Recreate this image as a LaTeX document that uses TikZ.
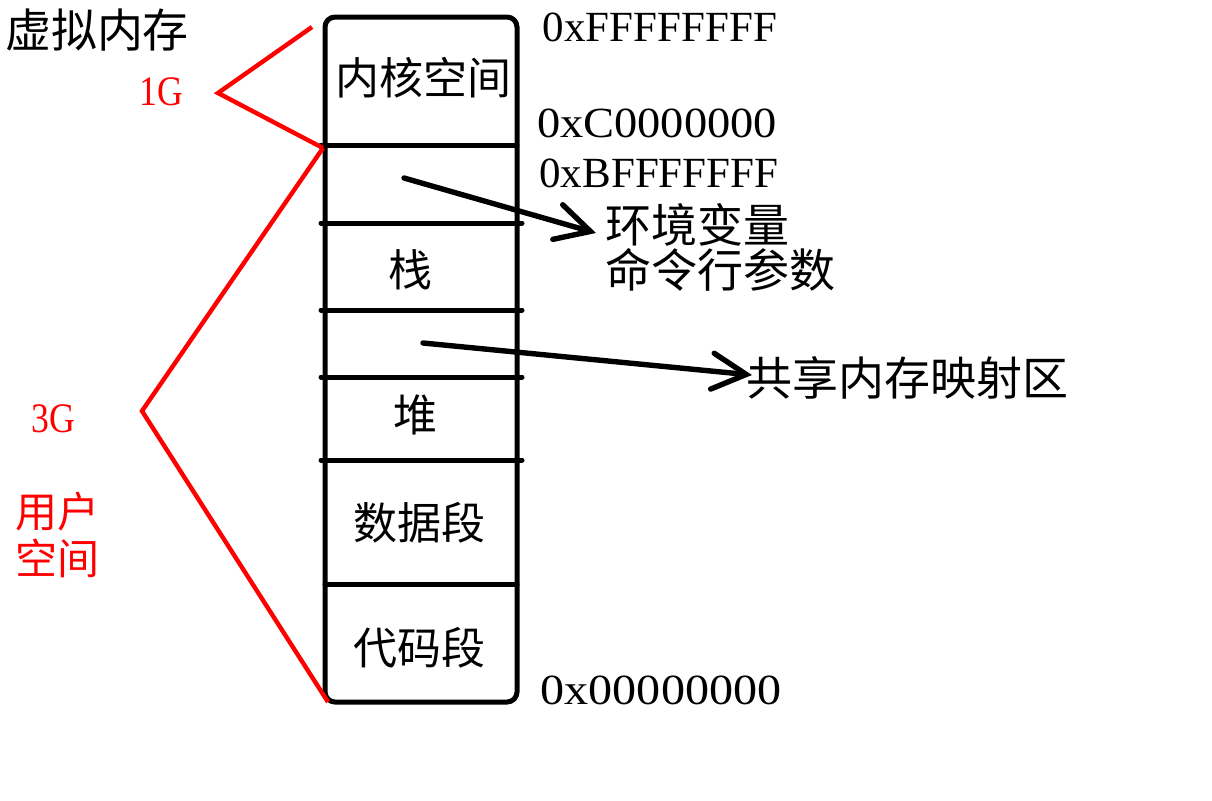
\documentclass[tikz,border=0pt]{standalone}
\usepackage{fontspec}
\usepackage{graphicx}
\setmainfont{Liberation Serif}
\newfontfamily\cjk{Noto Sans CJK SC}
\usetikzlibrary{arrows.meta}
\begin{document}
\begin{tikzpicture}[x=0.5pt,y=-0.5pt,
  seg/.style={font=\cjk\fontsize{22}{26}\selectfont, inner sep=0pt},
  note/.style={font=\cjk\fontsize{23}{27}\selectfont, inner sep=0pt},
  addr/.style={font=\fontsize{21.5}{26}\selectfont, inner sep=0pt},
  redlbl/.style={text=red, inner sep=0pt, font=\fontsize{21}{25}\selectfont},
  redcjk/.style={text=red, inner sep=0pt, align=center, font=\cjk\fontsize{21}{23.5}\selectfont},
  boxline/.style={line width=2.5pt, line cap=round},
  brace/.style={draw=red, line width=2.2pt, line join=miter},
  ptr/.style={line width=2.7pt, line cap=round, -{Straight Barb[length=17pt,width=18pt,line cap=round]}}]
\useasboundingbox (0,0) rectangle (1212,800);
\fill[white] (0,0) rectangle (1212,800);

% box
\draw[boxline, rounded corners=5pt] (325,17) rectangle (517,702);
\draw[boxline] (321,145) -- (517,145);
\draw[boxline] (321,223) -- (522,223);
\draw[boxline] (321,310) -- (522,310);
\draw[boxline] (321,377) -- (522,377);
\draw[boxline] (321,460) -- (522,460);
\draw[boxline] (325,584) -- (517,584);

% segment labels
\node[seg] (kernel) at (423,78) {内核空间};
\node[seg] (stack) at (410,270) {栈};
\node[seg] (heap) at (415,415) {堆};
\node[seg] (data) at (419,523) {数据段};
\node[seg] (code) at (419,648) {代码段};

% addresses
\node[addr] (aFF) at (660,27) {0xFFFFFFFF};
\node[addr] (aC0) at (657,123) {\scalebox{1.08}[1]{0xC0000000}};
\node[addr] (aBF) at (659,173) {0xBFFFFFFF};
\node[addr] (a00) at (661,690) {\scalebox{1.12}[1]{0x00000000}};

% left labels
\node[note] (vm) at (97,30) {虚拟内存};
\node[redlbl] (g1) at (161,92) {\scalebox{0.85}[1]{1G}};
\node[redlbl] (g3) at (53,419) {\scalebox{0.85}[1]{3G}};
\node[redcjk] (user) at (58,535) {用户\\空间};

% right notes
\node[note, anchor=west] (env) at (605,225) {环境变量};
\node[note, anchor=west] (cmd) at (605,270) {命令行参数};
\node[note, anchor=west] (share) at (746,378) {共享内存映射区};

% red braces
\coordinate (k1) at (312,27);
\coordinate (k2) at (218,93);
\coordinate (k3) at (323,148);
\coordinate (u2) at (142,411);
\coordinate (u3) at (328,702);
\draw[brace] (k1) -- (k2) -- (k3);
\draw[brace] (k3) -- (u2) -- (u3);

% pointers
\coordinate (p1) at (404,178);
\coordinate (p2) at (423,343);
\draw[ptr] (p1) -- ([shift={(-9,8)}]env.west);
\draw[ptr] (p2) -- ([shift={(6,-3)}]share.west);
\end{tikzpicture}
\end{document}
